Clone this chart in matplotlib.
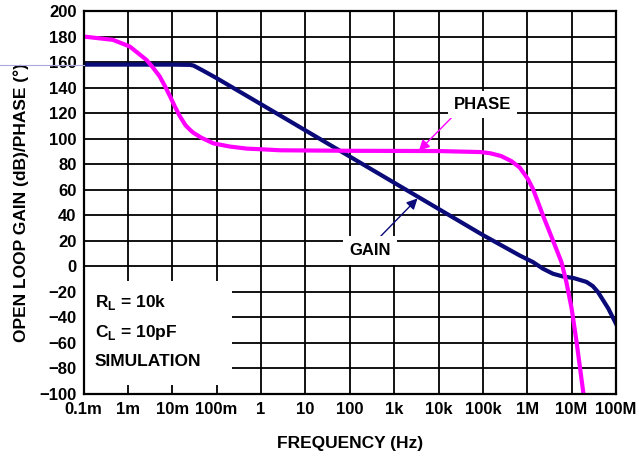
import numpy as np
import matplotlib
matplotlib.use("Agg")
import matplotlib.pyplot as plt
from matplotlib.patches import Rectangle
from matplotlib.lines import Line2D

plt.rcParams["font.family"] = ["Liberation Sans", "DejaVu Sans"]
plt.rcParams["font.weight"] = "bold"
plt.rcParams["mathtext.fontset"] = "custom"
plt.rcParams["mathtext.rm"] = "Liberation Sans:bold"
plt.rcParams["mathtext.bf"] = "Liberation Sans:bold"

# open loop gain (dB)
gain_freq = [1e-4, 1e-3, 1e-2, 0.025, 0.03, 0.05, 0.1, 1, 10, 100, 1e3, 1e4, 1e5,
             6.76e5, 1.35e6, 2.27e6, 3.8e6, 6.3e6, 1.09e7, 2.16e7, 3e7, 3.9e7,
             6.7e7, 1e8]
gain_db = [158, 158, 158, 157.8, 157.3, 153.2, 147.4, 127, 106.5, 86, 65.5, 45, 24.5,
           8.5, 3.3, -1.9, -5.8, -7.9, -9.1, -12.2, -15.5, -20, -33, -45]

# phase (degrees)
phase_freq = [1e-4, 4.6e-4, 1.1e-3, 2.6e-3, 3.5e-3, 5.2e-3, 7e-3, 8.9e-3, 1.15e-2,
              1.48e-2, 2.0e-2, 2.5e-2, 2.96e-2, 4.5e-2, 8.5e-2, 0.2, 0.48, 1, 2.7,
              100, 1e4, 9e4, 1.5e5, 2.57e5, 4.35e5, 6.76e5, 1.04e6, 1.35e6, 2.27e6,
              3.8e6, 5.9e6, 7.6e6, 1e7, 1.29e7, 1.85e7]
phase_deg = [180, 177.4, 172.2, 161.8, 156.6, 148.8, 140.5, 133.2, 125.0,
             117.6, 110.4, 107.0, 104.7, 100.8, 96.3, 93.8, 92.2, 91.7, 90.9,
             90.5, 90.3, 89.5, 88.5, 86.4, 82.5, 77.4, 68.3, 60.5, 39.7,
             20.2, 3.3, -12.2, -33, -59, -100]

x_ticks = [1e-4, 1e-3, 1e-2, 1e-1, 1, 10, 100, 1e3, 1e4, 1e5, 1e6, 1e7, 1e8]
x_labels = ["0.1m", "1m", "10m", "100m", "1", "10", "100", "1k", "10k", "100k",
            "1M", "10M", "100M"]
y_ticks = list(range(-100, 201, 20))

notes = [r"R$_{\mathbf{L}}$ = 10k", r"C$_{\mathbf{L}}$ = 10pF", "SIMULATION"]
note_y = [-31.5, -55, -77.7]

navy = "#0a0a78"
magenta = "#ff00ff"

fig = plt.figure(figsize=(6.39, 4.57), dpi=100)
ax = fig.add_axes([83.5 / 639, 1 - 394 / 457, 532.5 / 639, 383 / 457])

ax.set_xscale("log")
ax.set_xlim(1e-4, 1e8)
ax.set_ylim(-100, 200)
ax.set_xticks(x_ticks)
ax.set_xticklabels(x_labels)
ax.minorticks_off()
ax.set_yticks(y_ticks)
ax.tick_params(length=0, labelsize=12, pad=5)
ax.tick_params(axis="x", pad=6)
ax.grid(True, color="black", linewidth=1.3)
ax.set_axisbelow(True)
for s in ax.spines.values():
    s.set_linewidth(1.6)
    s.set_zorder(5)

ax.plot(gain_freq, gain_db, color=navy, linewidth=3.0, zorder=3,
        solid_joinstyle="round")
ax.plot(phase_freq, phase_deg, color=magenta, linewidth=3.0, zorder=3,
        solid_joinstyle="round")

# stray thin line left of the axes at the gain level
fig.add_artist(Line2D([0, 83.5 / 639], [1 - 64.5 / 457] * 2, color="#a8a8dc",
                      linewidth=0.8))

ax.set_xlabel("FREQUENCY (Hz)", fontsize=12.5, fontweight="bold")
ax.set_ylabel("OPEN LOOP GAIN (dB)/PHASE (°)", fontsize=12.5, fontweight="bold")
ax.xaxis.set_label_coords(0.5, -0.11)
ax.yaxis.set_label_coords(-0.103, 0.5)

# condition box
ax.add_patch(Rectangle((0, 0.0235), 0.279, 0.272, transform=ax.transAxes,
                       facecolor="white", edgecolor="none", zorder=2))
for t, yv in zip(notes, note_y):
    ax.text(1.8e-4, yv, t, fontsize=12.5, fontweight="bold", va="baseline",
            ha="left", zorder=4)

ax.annotate("PHASE", xy=(3.6e3, 90.5), xytext=(1e5, 126.7), fontsize=12,
            fontweight="bold", ha="center", va="center", zorder=4,
            bbox=dict(boxstyle="square,pad=0.35", facecolor="white", edgecolor="none"),
            arrowprops=dict(arrowstyle="-|>", color=magenta, lw=1.0,
                            mutation_scale=16, shrinkA=0, shrinkB=0,
                            relpos=(0.05, 0.0)))
ax.annotate("GAIN", xy=(3.37e3, 53.2), xytext=(285, 12.4), fontsize=12,
            fontweight="bold", ha="center", va="center", zorder=4,
            bbox=dict(boxstyle="square,pad=0.4", facecolor="white", edgecolor="none"),
            arrowprops=dict(arrowstyle="-|>", color=navy, lw=1.0,
                            mutation_scale=16, shrinkA=0, shrinkB=0,
                            relpos=(0.6, 1.0)))

fig.savefig("out.png", dpi=100)
